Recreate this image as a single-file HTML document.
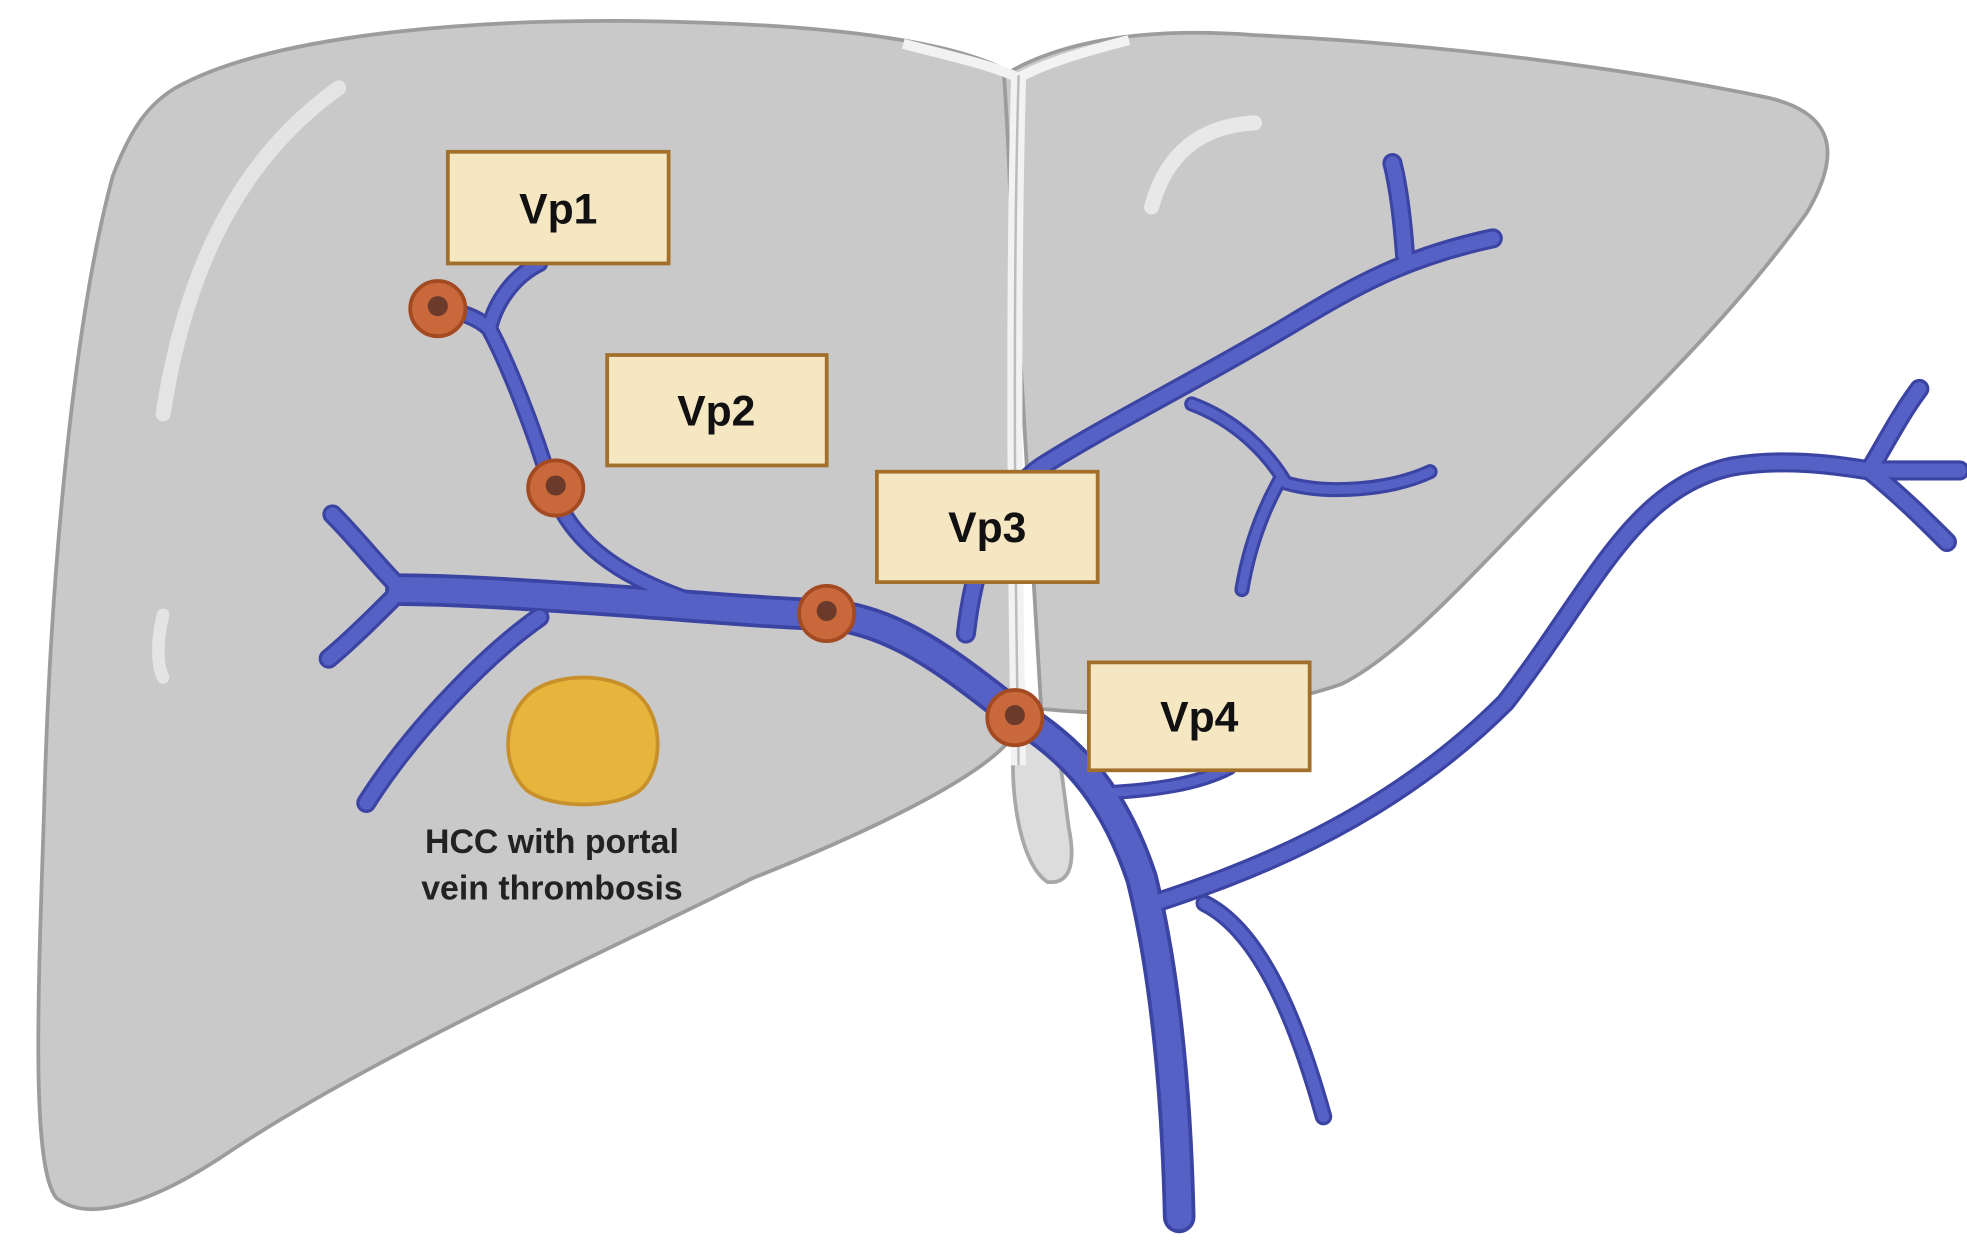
<!DOCTYPE html>
<html><head><style>html,body{margin:0;padding:0;background:#fff}svg{display:block}</style></head>
<body>
<svg width="1967" height="1242" viewBox="0 0 1568 990" preserveAspectRatio="none" xmlns="http://www.w3.org/2000/svg">
<!-- gallbladder -->
<path d="M808,590 C805,640 815,690 835,703 C852,705 858,690 852,660 C848,630 845,600 840,585 Z" fill="#dcdcdc" stroke="#a8a8a8" stroke-width="3"/>
<!-- right lobe -->
<path d="M800,60 C850,30 920,22 1000,28 C1150,35 1300,55 1410,78 C1460,90 1470,120 1440,170 C1390,240 1330,300 1250,380 C1180,450 1120,520 1070,545 C1000,570 900,572 830,565 Z" fill="#c9c9c9" stroke="#9c9c9c" stroke-width="3"/>
<!-- left lobe -->
<path d="M140,70 C220,25 400,12 560,18 C680,22 760,35 800,55 C810,200 812,400 805,590 C780,620 700,660 600,700 C480,760 300,840 180,920 C120,960 70,975 45,955 C25,930 30,800 35,650 C40,450 60,250 90,140 C105,100 120,82 140,70 Z" fill="#c9c9c9" stroke="#9c9c9c" stroke-width="3"/>
<!-- falciform -->
<path d="M720,35 C760,45 790,52 812,62 C830,52 860,42 900,32" fill="none" stroke="#f2f2f2" stroke-width="8"/>
<path d="M812,60 C808,200 808,400 812,610" fill="none" stroke="#f2f2f2" stroke-width="12"/>
<path d="M812,60 C808,200 808,400 812,610" fill="none" stroke="#bcbcbc" stroke-width="2"/>
<!-- highlights -->
<path d="M270,70 C200,120 150,200 130,330" fill="none" stroke="#e4e4e4" stroke-width="12" stroke-linecap="round"/>
<path d="M130,490 C125,510 125,530 130,540" fill="none" stroke="#e4e4e4" stroke-width="10" stroke-linecap="round"/>
<path d="M1000,98 C960,100 930,120 918,165" fill="none" stroke="#e8e8e8" stroke-width="12" stroke-linecap="round"/>
<!-- veins -->
<g fill="none" stroke-linecap="round" stroke-linejoin="round">
<g stroke="#3b43a3">
<path d="M940,970 C938,880 930,780 910,700 C890,640 860,600 810,570 C770,540 720,495 660,490 C600,488 540,482 480,478 C420,474 360,470 320,470" stroke-width="26"/>
<path d="M320,470 C300,450 285,430 265,410 M320,470 C300,490 280,510 262,525 M430,492 C390,520 330,580 292,640" stroke-width="16"/>
<path d="M560,482 C490,460 455,430 440,390 C425,340 405,290 390,262 C380,252 365,248 350,246 M390,262 C395,240 410,220 430,210" stroke-width="14"/>
<path d="M770,505 C775,460 790,400 830,372 C880,340 960,300 1030,258 C1080,228 1120,205 1190,190 M1120,203 C1118,175 1115,150 1110,130" stroke-width="16"/>
<path d="M950,322 C985,335 1010,360 1025,385 C1060,395 1110,390 1140,376 M1020,383 C1005,410 995,440 990,470" stroke-width="12"/>
<path d="M920,720 C980,700 1100,660 1200,560 C1270,470 1300,390 1380,372 C1420,365 1460,370 1490,375 M1490,375 C1505,350 1515,330 1530,310 M1490,375 C1520,375 1545,375 1562,375 M1490,375 C1515,395 1535,415 1552,432" stroke-width="16"/>
<path d="M880,632 C920,630 955,625 980,612" stroke-width="12"/>
<path d="M960,720 C1000,740 1030,800 1055,890" stroke-width="14"/>
</g>
<g stroke="#5561c4">
<path d="M940,970 C938,880 930,780 910,700 C890,640 860,600 810,570 C770,540 720,495 660,490 C600,488 540,482 480,478 C420,474 360,470 320,470" stroke-width="20"/>
<path d="M320,470 C300,450 285,430 265,410 M320,470 C300,490 280,510 262,525 M430,492 C390,520 330,580 292,640" stroke-width="11"/>
<path d="M560,482 C490,460 455,430 440,390 C425,340 405,290 390,262 C380,252 365,248 350,246 M390,262 C395,240 410,220 430,210" stroke-width="9"/>
<path d="M770,505 C775,460 790,400 830,372 C880,340 960,300 1030,258 C1080,228 1120,205 1190,190 M1120,203 C1118,175 1115,150 1110,130" stroke-width="11"/>
<path d="M950,322 C985,335 1010,360 1025,385 C1060,395 1110,390 1140,376 M1020,383 C1005,410 995,440 990,470" stroke-width="7"/>
<path d="M920,720 C980,700 1100,660 1200,560 C1270,470 1300,390 1380,372 C1420,365 1460,370 1490,375 M1490,375 C1505,350 1515,330 1530,310 M1490,375 C1520,375 1545,375 1562,375 M1490,375 C1515,395 1535,415 1552,432" stroke-width="11"/>
<path d="M880,632 C920,630 955,625 980,612" stroke-width="7"/>
<path d="M960,720 C1000,740 1030,800 1055,890" stroke-width="9"/>
</g>
</g>
<!-- nodules -->
<g stroke="#a34a22" stroke-width="3">
<circle cx="349" cy="246" r="22" fill="#c9683a"/><circle cx="443" cy="389" r="22" fill="#c9683a"/>
<circle cx="659" cy="489" r="22" fill="#c9683a"/><circle cx="809" cy="572" r="22" fill="#c9683a"/>
</g>
<g fill="#6b3a2a"><circle cx="349" cy="244" r="8"/><circle cx="443" cy="387" r="8"/><circle cx="659" cy="487" r="8"/><circle cx="809" cy="570" r="8"/></g>
<!-- HCC -->
<path d="M420,555 C440,535 490,535 510,555 C530,575 528,615 510,630 C490,645 440,645 420,630 C400,612 400,575 420,555 Z" fill="#e8b53c" stroke="#c8902a" stroke-width="3"/>
<!-- boxes -->
<g fill="#f6e7c3" stroke="#a3702c" stroke-width="3">
<rect x="357" y="121" width="176" height="89"/><rect x="484" y="283" width="175" height="88"/>
<rect x="699" y="376" width="176" height="88"/><rect x="868" y="528" width="176" height="86"/>
</g>
<g font-family="Liberation Sans, sans-serif" font-weight="bold" font-size="34" fill="#111" text-anchor="middle">
<text x="445" y="178">Vp1</text><text x="571" y="339">Vp2</text><text x="787" y="432">Vp3</text><text x="956" y="583">Vp4</text>
</g>
<g font-family="Liberation Sans, sans-serif" font-weight="bold" font-size="27" fill="#222" text-anchor="middle">
<text x="440" y="680">HCC with portal</text><text x="440" y="717">vein thrombosis</text>
</g>
</svg>
</body></html>
